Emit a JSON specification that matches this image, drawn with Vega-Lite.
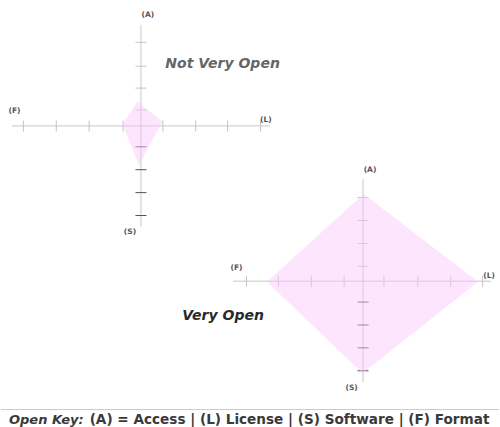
{
  "$schema": "https://vega.github.io/schema/vega-lite/v6.json",
  "width": 500,
  "height": 427,
  "padding": 0,
  "autosize": {"type": "fit", "contains": "padding"},
  "background": "white",
  "config": {"view": {"stroke": null}},
  "resolve": {"scale": {"color": "independent"}},
  "datasets": {
    "axes": [
      {"chart": "Not Very Open", "x": 11, "x2": 270, "y": 126.5, "y2": 126.5},
      {"chart": "Not Very Open", "x": 140.5, "x2": 140.5, "y": 25, "y2": 228},
      {"chart": "Very Open", "x": 233, "x2": 492, "y": 282.5, "y2": 282.5},
      {"chart": "Very Open", "x": 363.5, "x2": 363.5, "y": 180, "y2": 384},
      {"chart": "footer", "x": 0, "x2": 500, "y": 411.5, "y2": 411.5}
    ],
    "hticks": [
      {"chart": "Not Very Open", "x": 22.5, "y": 126.5},
      {"chart": "Not Very Open", "x": 55.5, "y": 126.5},
      {"chart": "Not Very Open", "x": 88.5, "y": 126.5},
      {"chart": "Not Very Open", "x": 122.5, "y": 126.5},
      {"chart": "Not Very Open", "x": 162.5, "y": 126.5},
      {"chart": "Not Very Open", "x": 195.5, "y": 126.5},
      {"chart": "Not Very Open", "x": 227.5, "y": 126.5},
      {"chart": "Not Very Open", "x": 260.5, "y": 126.5},
      {"chart": "Very Open", "x": 246.5, "y": 282.5},
      {"chart": "Very Open", "x": 278.5, "y": 282.5},
      {"chart": "Very Open", "x": 311.5, "y": 282.5},
      {"chart": "Very Open", "x": 344.5, "y": 282.5},
      {"chart": "Very Open", "x": 384.5, "y": 282.5},
      {"chart": "Very Open", "x": 418.5, "y": 282.5},
      {"chart": "Very Open", "x": 451.5, "y": 282.5},
      {"chart": "Very Open", "x": 483.5, "y": 282.5}
    ],
    "vticks": [
      {"chart": "Not Very Open", "half": "A", "x": 140.5, "y": 42.5},
      {"chart": "Not Very Open", "half": "A", "x": 140.5, "y": 66.5},
      {"chart": "Not Very Open", "half": "A", "x": 140.5, "y": 88.5},
      {"chart": "Not Very Open", "half": "A", "x": 140.5, "y": 110.5},
      {"chart": "Not Very Open", "half": "S", "x": 140.5, "y": 147.5},
      {"chart": "Not Very Open", "half": "S", "x": 140.5, "y": 170.5},
      {"chart": "Not Very Open", "half": "S", "x": 140.5, "y": 193.5},
      {"chart": "Not Very Open", "half": "S", "x": 140.5, "y": 216.5},
      {"chart": "Very Open", "half": "A", "x": 363.5, "y": 198.5},
      {"chart": "Very Open", "half": "A", "x": 363.5, "y": 221.5},
      {"chart": "Very Open", "half": "A", "x": 363.5, "y": 244.5},
      {"chart": "Very Open", "half": "A", "x": 363.5, "y": 267.5},
      {"chart": "Very Open", "half": "S", "x": 363.5, "y": 303.5},
      {"chart": "Very Open", "half": "S", "x": 363.5, "y": 326.5},
      {"chart": "Very Open", "half": "S", "x": 363.5, "y": 349.5},
      {"chart": "Very Open", "half": "S", "x": 363.5, "y": 372.5}
    ],
    "shapes": [
      {"chart": "Not Very Open", "axis": "F", "order": 1, "x": 122, "y": 125},
      {"chart": "Not Very Open", "axis": "A", "order": 2, "x": 137, "y": 102},
      {"chart": "Not Very Open", "axis": "L", "order": 3, "x": 162, "y": 122},
      {"chart": "Not Very Open", "axis": "S", "order": 4, "x": 138.5, "y": 166},
      {"chart": "Very Open", "axis": "F", "order": 1, "x": 267, "y": 283},
      {"chart": "Very Open", "axis": "A", "order": 2, "x": 364, "y": 195},
      {"chart": "Very Open", "axis": "L", "order": 3, "x": 479, "y": 283},
      {"chart": "Very Open", "axis": "S", "order": 4, "x": 363, "y": 375}
    ],
    "labels": [
      {"chart": "Not Very Open", "label": "(A)", "x": 147.5, "y": 17},
      {"chart": "Not Very Open", "label": "(F)", "x": 13.5, "y": 114},
      {"chart": "Not Very Open", "label": "(L)", "x": 266, "y": 123},
      {"chart": "Not Very Open", "label": "(S)", "x": 129.5, "y": 235},
      {"chart": "Very Open", "label": "(A)", "x": 370.5, "y": 173},
      {"chart": "Very Open", "label": "(F)", "x": 236.5, "y": 271},
      {"chart": "Very Open", "label": "(L)", "x": 490, "y": 279},
      {"chart": "Very Open", "label": "(S)", "x": 352, "y": 392}
    ],
    "titles": [
      {"chart": "Not Very Open", "label": "Not Very Open", "x": 165, "y": 68},
      {"chart": "Very Open", "label": "Very Open", "x": 182, "y": 322}
    ],
    "footkey": [
      {"label": "Open Key:", "x": 8, "y": 426}
    ],
    "foottext": [
      {"label": "(A) = Access | (L) License | (S) Software | (F) Format", "x": 89, "y": 426}
    ]
  },
  "encoding": {
    "x": {"field": "x", "type": "quantitative", "axis": null, "scale": {"domain": [0, 500], "nice": false, "zero": false}},
    "y": {"field": "y", "type": "quantitative", "axis": null, "scale": {"domain": [0, 427], "nice": false, "zero": false, "reverse": true}}
  },
  "layer": [
    {
      "data": {"name": "axes"},
      "mark": {"type": "rule", "color": "#c8c8c8", "strokeWidth": 1},
      "encoding": {"x2": {"field": "x2"}, "y2": {"field": "y2"}}
    },
    {
      "data": {"name": "hticks"},
      "mark": {"type": "tick", "orient": "vertical", "size": 11, "thickness": 1, "color": "#c4c4c4", "opacity": 1}
    },
    {
      "data": {"name": "vticks"},
      "mark": {"type": "tick", "orient": "horizontal", "size": 11, "thickness": 1, "opacity": 1},
      "encoding": {
        "color": {"field": "half", "type": "nominal", "legend": null, "scale": {"domain": ["A", "S"], "range": ["#c4c4c4", "#555555"]}}
      }
    },
    {
      "data": {"name": "shapes"},
      "mark": {"type": "line", "interpolate": "linear-closed", "fill": "#fac8fa", "fillOpacity": 0.45, "strokeOpacity": 0, "strokeWidth": 0},
      "encoding": {
        "detail": {"field": "chart"},
        "order": {"field": "order", "type": "quantitative"}
      }
    },
    {
      "data": {"name": "labels"},
      "mark": {"type": "text", "font": "DejaVu Sans", "fontWeight": "bold", "fontSize": 7.5, "color": "#555555", "align": "center", "baseline": "alphabetic"},
      "encoding": {"text": {"field": "label"}}
    },
    {
      "data": {"name": "titles"},
      "mark": {"type": "text", "font": "DejaVu Sans", "fontWeight": "bold", "fontStyle": "italic", "fontSize": 14, "align": "left", "baseline": "alphabetic"},
      "encoding": {
        "text": {"field": "label"},
        "color": {"field": "chart", "type": "nominal", "legend": null, "scale": {"domain": ["Not Very Open", "Very Open"], "range": ["#666666", "#2a2a2a"]}}
      }
    },
    {
      "data": {"name": "footkey"},
      "mark": {"type": "text", "font": "DejaVu Sans", "fontWeight": "bold", "fontStyle": "italic", "fontSize": 13, "color": "#3a3a3a", "align": "left", "baseline": "alphabetic"},
      "encoding": {"text": {"field": "label"}}
    },
    {
      "data": {"name": "foottext"},
      "mark": {"type": "text", "font": "DejaVu Sans", "fontWeight": "bold", "fontSize": 13.6, "color": "#3a3a3a", "align": "left", "baseline": "alphabetic"},
      "encoding": {"text": {"field": "label"}}
    }
  ]
}
